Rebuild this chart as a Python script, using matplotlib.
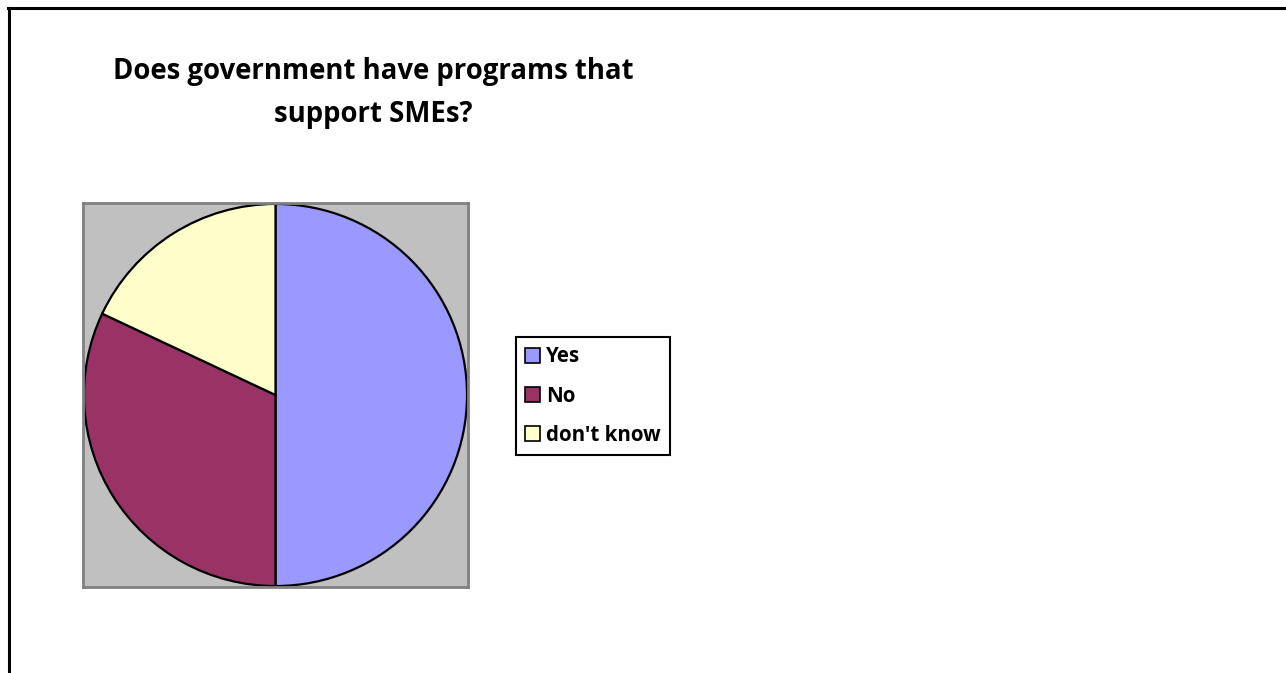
import matplotlib.pyplot as plt
from matplotlib.patches import Patch
from matplotlib.lines import Line2D

labels = ["Yes", "No", "don't know"]
values = [50, 32, 18]
colors = ["#9999FF", "#993366", "#FFFFCC"]
title = "Does government have programs that\nsupport SMEs?"

W, H = 1286, 673
fig = plt.figure(figsize=(W / 100, H / 100), dpi=100)
plt.rcParams['font.family'] = ['Open Sans', 'DejaVu Sans']

# outer frame (only top and left edges visible)
fig.add_artist(Line2D([8 / W, 1], [1 - 7.5 / H] * 2, color="black", lw=2.2))
fig.add_artist(Line2D([9 / W] * 2, [0, 1 - 7.5 / H], color="black", lw=2.2))

fig.text(373 / W, 1 - 93 / H, title, ha="center", va="center",
         fontsize=19.8, fontweight="bold", linespacing=1.68)

ax = fig.add_axes([83 / W, 1 - 587 / H, 385 / W, 384 / H])
ax.set_facecolor("#C0C0C0")
for s in ax.spines.values():
    s.set_edgecolor("#808080")
    s.set_linewidth(2)
ax.pie(values, colors=colors, startangle=90, counterclock=False, radius=0.995,
       wedgeprops=dict(edgecolor="black", linewidth=1.6))
ax.set_xlim(-1, 1)
ax.set_ylim(-1, 1)
ax.set_aspect("auto")
ax.set_xticks([])
ax.set_yticks([])
ax.set_frame_on(True)

handles = [Patch(facecolor=c, edgecolor="black", linewidth=1.2) for c in colors]
leg = fig.legend(handles, labels, loc="center left",
                 bbox_to_anchor=(516 / W, 1 - 396 / H), frameon=True,
                 fancybox=False, edgecolor="black", framealpha=1,
                 prop=dict(size=14.8, weight="bold"), handlelength=0.72,
                 handleheight=0.72, handletextpad=0.3, labelspacing=0.88,
                 borderpad=0.45, borderaxespad=0)
leg.get_frame().set_linewidth(1.5)

fig.savefig("out.png", dpi=100)
